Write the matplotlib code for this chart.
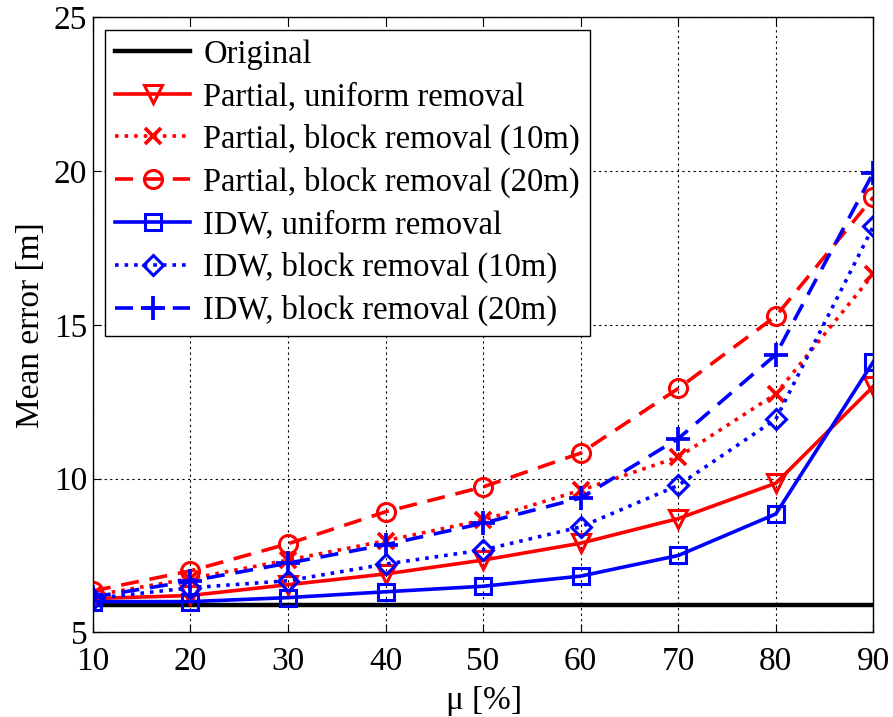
import matplotlib
matplotlib.use("Agg")
import matplotlib.pyplot as plt

plt.rcParams['font.family'] = ['Liberation Serif', 'DejaVu Serif']
plt.rcParams['mathtext.fontset'] = 'stix'

# Data
mu = [10, 20, 30, 40, 50, 60, 70, 80, 90]
original = [5.88] * 9
partial_uniform = [6.1, 6.2, 6.55, 6.9, 7.35, 7.9, 8.7, 9.85, 13.0]
partial_block10 = [6.2, 6.75, 7.35, 7.98, 8.65, 9.62, 10.7, 12.75, 16.65]
partial_block20 = [6.35, 7.0, 7.88, 8.92, 9.73, 10.83, 12.93, 15.28, 19.15]
idw_uniform = [6.0, 6.0, 6.13, 6.32, 6.5, 6.83, 7.5, 8.85, 13.8]
idw_block10 = [6.1, 6.45, 6.68, 7.22, 7.68, 8.43, 9.78, 11.93, 18.2]
idw_block20 = [6.15, 6.67, 7.25, 7.85, 8.55, 9.37, 11.3, 14.03, 19.95]

fig = plt.figure(figsize=(8.93, 7.17), dpi=100)
ax = fig.add_axes([0.104, 0.118, 0.874, 0.858])

lw = 2.6
ms = 12
mew = 2.2

ax.plot(mu, original, color='black', lw=lw + 0.6, label='Original')
ax.plot(mu, partial_uniform, color='red', lw=lw, ls='-', marker='v', ms=ms + 1,
        mfc='none', mew=mew, label='Partial, uniform removal')
ax.plot(mu, partial_block10, color='red', lw=lw, ls=':', marker='x', ms=ms,
        mew=mew + 0.5, label='Partial, block removal (10m)')
ax.plot(mu, partial_block20, color='red', lw=lw, ls=(0, (5, 3)), marker='o', ms=ms + 1,
        mfc='none', mew=mew, label='Partial, block removal (20m)')
ax.plot(mu, idw_uniform, color='blue', lw=lw, ls='-', marker='s', ms=ms - 1,
        mfc='none', mew=mew, label='IDW, uniform removal')
ax.plot(mu, idw_block10, color='blue', lw=lw, ls=':', marker='D', ms=ms - 2,
        mfc='none', mew=mew, label='IDW, block removal (10m)')
ax.plot(mu, idw_block20, color='blue', lw=lw, ls=(0, (5, 3)), marker='+', ms=ms + 5,
        mew=mew + 0.5, label='IDW, block removal (20m)')

ax.set_xlim(10, 90)
ax.set_ylim(5, 25)
ax.set_xticks(mu)
ax.set_yticks([5, 10, 15, 20, 25])
ax.grid(True, color='black', ls=(0, (2, 3)), lw=0.8)
ax.tick_params(direction='in', top=True, right=True, labelsize=24, length=6)
ax.tick_params(axis='x', pad=10)
ax.tick_params(axis='y', pad=4)
for s in ax.spines.values():
    s.set_linewidth(1.0)

ax.set_xlabel(r'$\mathregular{\mu}$ [%]', fontsize=24, labelpad=5)
ax.set_ylabel('Mean error [m]', fontsize=24, labelpad=6)

leg = ax.legend(loc='upper left', fontsize=23.5, frameon=True, fancybox=False,
                edgecolor='black', framealpha=1, handlelength=2.3,
                labelspacing=0.36, borderpad=0.3, handletextpad=0.4,
                borderaxespad=0.38)
leg.get_frame().set_linewidth(1.0)

fig.savefig('out.png', dpi=100)
